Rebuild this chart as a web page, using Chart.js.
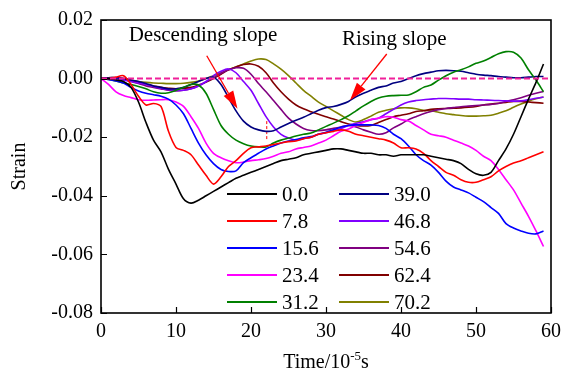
<!DOCTYPE html>
<html><head><meta charset="utf-8">
<script src="https://cdn.jsdelivr.net/npm/chart.js@4.4.1/dist/chart.umd.min.js"></script>
<style>html,body{margin:0;padding:0;background:#fff}</style>
</head><body>
<canvas id="c" width="561" height="380" style="width:561px;height:380px;display:block"></canvas>
<script>
// ---------- data ----------
const time = [0,1,2,3,4,5,6,7,8,9,10,11,12,13,14,15,16,17,18,19,20,21,22,23,24,25,26,27,28,29,30,31,32,33,34,35,36,37,38,39,40,41,42,43,44,45,46,47,48,49,50,51,52,53,54,55,56,57,58,59];

const s00 = [0,0,-0.0005,-0.001,-0.003,-0.008,-0.015,-0.021,-0.025,-0.031,-0.036,-0.041,-0.0425,-0.0415,-0.040,-0.0385,-0.037,-0.0355,-0.034,-0.033,-0.032,-0.031,-0.030,-0.029,-0.028,-0.0275,-0.027,-0.026,-0.0255,-0.025,-0.0245,-0.024,-0.024,-0.0245,-0.025,-0.0255,-0.0255,-0.026,-0.026,-0.0265,-0.026,-0.026,-0.026,-0.026,-0.0265,-0.027,-0.0275,-0.028,-0.029,-0.031,-0.0325,-0.033,-0.032,-0.028,-0.024,-0.019,-0.013,-0.007,-0.0013,0.005];
const s78 = [0,0,0.0005,0.001,-0.002,-0.006,-0.009,-0.0085,-0.0095,-0.018,-0.0235,-0.0245,-0.026,-0.0295,-0.033,-0.036,-0.0335,-0.030,-0.028,-0.0255,-0.0236,-0.0233,-0.023,-0.0225,-0.022,-0.0215,-0.0213,-0.0205,-0.020,-0.019,-0.0185,-0.018,-0.0175,-0.018,-0.019,-0.0195,-0.020,-0.0205,-0.021,-0.022,-0.0236,-0.0236,-0.024,-0.0255,-0.028,-0.030,-0.032,-0.033,-0.0345,-0.0354,-0.0354,-0.0345,-0.0335,-0.0315,-0.030,-0.0288,-0.028,-0.027,-0.026,-0.025];
const s156 = [0,-0.0003,-0.0008,-0.0015,-0.003,-0.0042,-0.005,-0.0055,-0.006,-0.007,-0.009,-0.012,-0.017,-0.022,-0.026,-0.029,-0.031,-0.0317,-0.0315,-0.0287,-0.027,-0.0255,-0.024,-0.023,-0.022,-0.0213,-0.0208,-0.0202,-0.0198,-0.019,-0.0183,-0.0175,-0.0165,-0.016,-0.0158,-0.0158,-0.0158,-0.016,-0.017,-0.019,-0.0205,-0.023,-0.026,-0.028,-0.0295,-0.032,-0.035,-0.037,-0.038,-0.039,-0.0405,-0.042,-0.044,-0.046,-0.0495,-0.051,-0.052,-0.0528,-0.053,-0.052];
const s234 = [0,-0.002,-0.0045,-0.0058,-0.0065,-0.0072,-0.0074,-0.0073,-0.0072,-0.0072,-0.008,-0.0095,-0.013,-0.017,-0.022,-0.0255,-0.027,-0.028,-0.0287,-0.0285,-0.028,-0.0277,-0.0273,-0.0265,-0.0255,-0.025,-0.024,-0.0235,-0.023,-0.022,-0.021,-0.0195,-0.018,-0.0172,-0.016,-0.015,-0.014,-0.0135,-0.013,-0.0132,-0.014,-0.0145,-0.016,-0.0175,-0.019,-0.0195,-0.020,-0.021,-0.022,-0.023,-0.0245,-0.0265,-0.028,-0.031,-0.0345,-0.038,-0.0425,-0.047,-0.052,-0.0573];
const s312 = [0,-0.0003,-0.0008,-0.0015,-0.002,-0.0027,-0.0035,-0.0045,-0.005,-0.0048,-0.004,-0.003,-0.002,-0.0022,-0.005,-0.0105,-0.016,-0.019,-0.021,-0.0222,-0.023,-0.0233,-0.0233,-0.022,-0.021,-0.0203,-0.0196,-0.019,-0.0186,-0.0175,-0.0163,-0.0152,-0.014,-0.0127,-0.011,-0.0093,-0.0078,-0.0066,-0.006,-0.0058,-0.0057,-0.0056,-0.0045,-0.003,-0.0022,-0.0005,0.001,0.0022,0.003,0.004,0.0052,0.006,0.0072,0.0085,0.0092,0.009,0.007,0.003,-0.0005,-0.0045];
const s390 = [0,0.0003,0.0003,0,-0.0005,-0.001,-0.0017,-0.0025,-0.003,-0.0035,-0.0035,-0.003,-0.002,-0.001,0,0.0005,-0.002,-0.0065,-0.011,-0.0145,-0.0165,-0.0175,-0.018,-0.0178,-0.0165,-0.0153,-0.0142,-0.0132,-0.012,-0.0108,-0.0099,-0.0095,-0.0088,-0.0078,-0.0062,-0.005,-0.004,-0.003,-0.0025,-0.0015,-0.001,0,0.001,0.0017,0.0022,0.0027,0.0028,0.0027,0.0025,0.002,0.0015,0.0012,0.001,0.0007,0.0005,0.0003,0.0003,0.0005,0.0007,0.0007];
const s468 = [0,0.0003,0,-0.0005,-0.001,-0.0015,-0.002,-0.0027,-0.0033,-0.0038,-0.004,-0.004,-0.0035,-0.0025,-0.001,0.001,0.0025,0.0033,0.002,-0.001,-0.004,-0.0085,-0.013,-0.0165,-0.019,-0.0203,-0.021,-0.0205,-0.020,-0.019,-0.0185,-0.0177,-0.017,-0.016,-0.0153,-0.0147,-0.014,-0.0135,-0.012,-0.0105,-0.009,-0.008,-0.0075,-0.0072,-0.007,-0.0068,-0.0068,-0.0069,-0.007,-0.007,-0.0072,-0.0073,-0.0074,-0.0075,-0.0076,-0.0077,-0.0076,-0.0072,-0.0067,-0.0063];
const s546 = [0,0.0003,0.0002,-0.0003,-0.001,-0.0017,-0.0025,-0.003,-0.0035,-0.004,-0.0042,-0.004,-0.0035,-0.0025,-0.0012,0.0003,0.0018,0.003,0.0037,0.0035,0.0015,-0.0017,-0.0045,-0.0075,-0.0105,-0.0135,-0.0155,-0.017,-0.0177,-0.0178,-0.0175,-0.017,-0.0165,-0.016,-0.0165,-0.0175,-0.0183,-0.019,-0.0185,-0.0168,-0.0155,-0.014,-0.013,-0.012,-0.0112,-0.0106,-0.0102,-0.0099,-0.0096,-0.0094,-0.0092,-0.009,-0.0088,-0.0085,-0.0078,-0.0072,-0.0065,-0.0057,-0.005,-0.0044];
const s624 = [0,0.0003,0.0003,0,-0.0007,-0.0013,-0.002,-0.0025,-0.003,-0.0033,-0.0035,-0.0033,-0.003,-0.0022,-0.0012,0,0.0015,0.003,0.004,0.0048,0.005,0.0042,0.002,-0.0015,-0.0045,-0.007,-0.009,-0.0103,-0.0113,-0.0122,-0.013,-0.0138,-0.0147,-0.0155,-0.016,-0.0162,-0.016,-0.015,-0.014,-0.013,-0.0125,-0.012,-0.0112,-0.011,-0.0105,-0.0103,-0.0102,-0.0101,-0.010,-0.0098,-0.0095,-0.009,-0.0087,-0.0084,-0.0081,-0.0078,-0.0078,-0.008,-0.0082,-0.0084];
const s702 = [0,0,0,-0.0003,-0.0006,-0.001,-0.0013,-0.0015,-0.0016,-0.0017,-0.0017,-0.0016,-0.0013,-0.0008,0,0.001,0.002,0.003,0.004,0.005,0.006,0.0067,0.0065,0.005,0.0032,0.001,-0.0015,-0.004,-0.006,-0.008,-0.0095,-0.011,-0.0125,-0.014,-0.0148,-0.014,-0.0128,-0.0115,-0.0108,-0.0103,-0.010,-0.010,-0.0103,-0.0108,-0.011,-0.0115,-0.012,-0.0123,-0.0126,-0.0128,-0.0128,-0.0127,-0.0125,-0.0118,-0.011,-0.0098,-0.0087,-0.0077,-0.0069,-0.0063];

const seriesLabels = ['0.0','7.8','15.6','23.4','31.2','39.0','46.8','54.6','62.4','70.2'];
const seriesValues = [s00,s78,s156,s234,s312,s390,s468,s546,s624,s702];
const seriesColors = ['#000000','#ff0000','#0000ff','#ff00ff','#008000','#000080','#8000ff','#800080','#800000','#808000'];

const refLineX = [0, 60];
const refLineY = [0, 0];
const markerX = [22.1, 22.1];
const markerY = [-0.0145, -0.0212];

const xTicks = [0,10,20,30,40,50,60];
const yTicks = [-0.08,-0.06,-0.04,-0.02,0.00,0.02];

// annotation texts and arrow anchors (in data units)
const annoText = ['Descending slope', 'Rising slope'];
const annoAt = [[13.6, 0.0148], [39.1, 0.0132]];
const arrowFrom = [[14.1, 0.0078], [38.1, 0.0084]];
const arrowTo = [[18.2, -0.0103], [33.2, -0.0074]];

// ---------- chart ----------
const FONT = '"Liberation Serif","Times New Roman",Times,serif';

const datasets = seriesValues.map((vals, i) => ({
  label: seriesLabels[i],
  data: time.map((t, k) => ({x: t, y: vals[k]})),
  borderColor: seriesColors[i],
  backgroundColor: seriesColors[i],
  borderWidth: 1.6,
  pointRadius: 0,
  tension: 0.3,
  fill: false,
  isSeries: true
}));
datasets.unshift({
  label: 'zero',
  data: refLineX.map((x, k) => ({x, y: refLineY[k]})),
  borderColor: '#f0209a',
  borderWidth: 2,
  borderDash: [6, 3],
  pointRadius: 0,
  isSeries: false
});
datasets.push({
  label: 'marker',
  data: markerX.map((x, k) => ({x, y: markerY[k]})),
  borderColor: '#ff0000',
  borderWidth: 1,
  borderDash: [3, 2],
  pointRadius: 0,
  isSeries: false
});

function drawArrow(ctx, x1, y1, x2, y2) {
  const ang = Math.atan2(y2 - y1, x2 - x1);
  const L = 18, W = 5.5;
  const bx = x2 - L * Math.cos(ang), by = y2 - L * Math.sin(ang);
  ctx.beginPath(); ctx.moveTo(x1, y1); ctx.lineTo(bx, by); ctx.stroke();
  ctx.beginPath();
  ctx.moveTo(x2, y2);
  ctx.lineTo(bx + W * Math.sin(ang), by - W * Math.cos(ang));
  ctx.lineTo(bx - W * Math.sin(ang), by + W * Math.cos(ang));
  ctx.closePath(); ctx.fill();
}

const decor = {
  id: 'decor',
  afterDraw(chart) {
    const {ctx, chartArea: a, scales: {x, y}} = chart;
    ctx.save();
    // frame
    ctx.strokeStyle = '#000'; ctx.lineWidth = 1.6;
    ctx.strokeRect(a.left, a.top, a.right - a.left, a.bottom - a.top);
    // inward ticks
    ctx.beginPath();
    xTicks.forEach(v => { const p = Math.round(x.getPixelForValue(v)) + 0.5; ctx.moveTo(p, a.bottom); ctx.lineTo(p, a.bottom - 6); });
    yTicks.forEach(v => { const p = Math.round(y.getPixelForValue(v)) + 0.5; ctx.moveTo(a.left, p); ctx.lineTo(a.left + 6, p); });
    ctx.lineWidth = 1.2; ctx.stroke();

    // legend (two columns)
    const sets = chart.data.datasets.filter(d => d.isSeries);
    ctx.font = '21px ' + FONT;
    ctx.textBaseline = 'middle'; ctx.textAlign = 'left';
    sets.forEach((d, i) => {
      const col = Math.floor(i / 5), row = i % 5;
      const lx = a.left + 126 + col * 112;
      const ly = a.top + 174 + row * 27;
      ctx.strokeStyle = d.borderColor; ctx.lineWidth = 1.8;
      ctx.beginPath(); ctx.moveTo(lx, ly); ctx.lineTo(lx + 50, ly); ctx.stroke();
      ctx.fillStyle = '#000';
      ctx.fillText(d.label, lx + 55, ly + 1);
    });

    // annotations
    ctx.textAlign = 'center';
    annoText.forEach((t, i) => {
      ctx.fillStyle = '#000';
      ctx.fillText(t, x.getPixelForValue(annoAt[i][0]), y.getPixelForValue(annoAt[i][1]));
    });
    ctx.strokeStyle = '#ff0000'; ctx.fillStyle = '#ff0000'; ctx.lineWidth = 1.3;
    arrowFrom.forEach((f, i) => {
      drawArrow(ctx, x.getPixelForValue(f[0]), y.getPixelForValue(f[1]),
        x.getPixelForValue(arrowTo[i][0]), y.getPixelForValue(arrowTo[i][1]));
    });

    // axis titles
    ctx.fillStyle = '#000';
    ctx.font = '20px ' + FONT;
    ctx.save();
    ctx.translate(20, (a.top + a.bottom) / 2);
    ctx.rotate(-Math.PI / 2);
    ctx.textAlign = 'center'; ctx.textBaseline = 'middle';
    ctx.fillText('Strain', 0, 0);
    ctx.restore();

    const base = 'Time/10', sup = '-5', tail = 's';
    const f1 = '20px ' + FONT, f2 = '13px ' + FONT;
    ctx.font = f1; const w1 = ctx.measureText(base).width, w3 = ctx.measureText(tail).width;
    ctx.font = f2; const w2 = ctx.measureText(sup).width;
    let cx = (a.left + a.right) / 2 - (w1 + w2 + w3) / 2;
    const by = 368;
    ctx.textAlign = 'left'; ctx.textBaseline = 'alphabetic';
    ctx.font = f1; ctx.fillText(base, cx, by); cx += w1;
    ctx.font = f2; ctx.fillText(sup, cx, by - 8); cx += w2;
    ctx.font = f1; ctx.fillText(tail, cx, by);
    ctx.restore();
  }
};

new Chart(document.getElementById('c'), {
  type: 'line',
  data: {datasets},
  options: {
    responsive: false,
    animation: false,
    devicePixelRatio: 1,
    layout: {padding: {left: 0, right: 0, top: 15, bottom: 0}},
    plugins: {legend: {display: false}, tooltip: {enabled: false}},
    scales: {
      x: {
        type: 'linear', min: 0, max: 60,
        grid: {display: false, drawTicks: false},
        border: {display: false},
        ticks: {stepSize: 10, padding: 7, color: '#000', font: {family: FONT, size: 20},
          callback: v => String(v)},
        afterFit: s => { s.height = 67; s.paddingRight = 10; s.paddingLeft = 0; }
      },
      y: {
        type: 'linear', min: -0.08, max: 0.02,
        grid: {display: false, drawTicks: false},
        border: {display: false},
        ticks: {stepSize: 0.02, padding: 8, color: '#000', font: {family: FONT, size: 20},
          callback: v => (Math.abs(v) < 1e-9 ? '0.00' : v.toFixed(2))},
        afterFit: s => { s.width = 101; }
      }
    }
  },
  plugins: [decor]
});
</script>
</body></html>
